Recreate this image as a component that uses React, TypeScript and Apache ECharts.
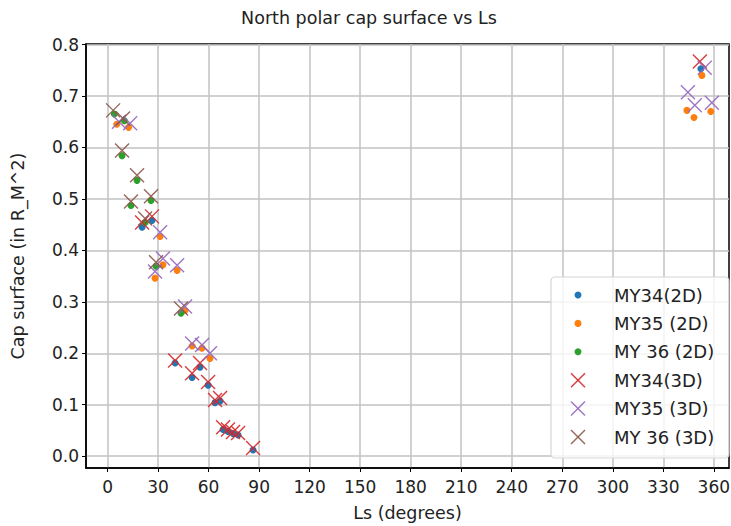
import React, { useEffect, useRef } from 'react';
import * as echarts from 'echarts';

const xTicks = [0, 30, 60, 90, 120, 150, 180, 210, 240, 270, 300, 330, 360];
const yTicks = [0, 0.1, 0.2, 0.3, 0.4, 0.5, 0.6, 0.7, 0.8];

const seriesNames = ['MY34(2D)', 'MY35 (2D)', 'MY 36 (2D)', 'MY34(3D)', 'MY35 (3D)', 'MY 36 (3D)'];
const seriesColors = ['#1f77b4', '#ff7f0e', '#2ca02c', '#d62728', '#9467bd', '#8c564b'];

// MY34
const my34Ls2D = [20.5, 26.4, 40.1, 50.2, 54.9, 59.7, 63.8, 66.8, 68.6, 71.5, 74.5, 77.5, 86.4, 352.3];
const my34Cap2D = [0.445, 0.458, 0.181, 0.153, 0.173, 0.138, 0.104, 0.107, 0.052, 0.048, 0.044, 0.041, 0.012, 0.753];
const my34Ls3D = [20.5, 26.4, 40.1, 50.2, 54.9, 59.7, 63.8, 66.8, 68.6, 71.5, 74.5, 77.5, 86.4, 351.7];
const my34Cap3D = [0.454, 0.466, 0.186, 0.161, 0.181, 0.144, 0.109, 0.113, 0.056, 0.052, 0.047, 0.045, 0.016, 0.767];

// MY35
const my35Ls2D = [5.5, 12.5, 28.2, 31.2, 32.9, 41.3, 46.0, 50.2, 56.1, 60.8, 344.0, 348.2, 352.9, 358.2];
const my35Cap2D = [0.645, 0.639, 0.346, 0.427, 0.372, 0.361, 0.283, 0.214, 0.210, 0.190, 0.672, 0.658, 0.740, 0.670];
const my35Ls3D = [6.8, 13.4, 28.2, 31.2, 32.9, 41.3, 46.0, 50.2, 56.1, 60.8, 344.6, 348.7, 354.6, 358.8];
const my35Cap3D = [0.650, 0.647, 0.359, 0.435, 0.384, 0.371, 0.291, 0.219, 0.216, 0.200, 0.707, 0.682, 0.755, 0.687];

// MY36
const my36Ls2D = [4.0, 10.0, 8.6, 17.5, 13.9, 25.8, 22.3, 28.8, 43.6];
const my36Cap2D = [0.665, 0.652, 0.584, 0.536, 0.487, 0.497, 0.454, 0.369, 0.278];
const my36Ls3D = [3.3, 9.2, 8.6, 17.5, 13.9, 25.8, 22.3, 28.8, 43.6];
const my36Cap3D = [0.672, 0.656, 0.594, 0.546, 0.495, 0.505, 0.462, 0.377, 0.287];

const FONT = 'DejaVu Sans';
const X_PATH = 'path://M0 0L10 10M10 0L0 10';

function pairs(xs: number[], ys: number[]) {
  return xs.map((x, i) => [x, ys[i]]);
}

export default function App() {
  const ref = useRef<HTMLDivElement>(null);
  useEffect(() => {
    document.body.style.margin = '0';
    const chart = echarts.init(ref.current!, null, { renderer: 'svg' });

    const data = [
      pairs(my34Ls2D, my34Cap2D),
      pairs(my35Ls2D, my35Cap2D),
      pairs(my36Ls2D, my36Cap2D),
      pairs(my34Ls3D, my34Cap3D),
      pairs(my35Ls3D, my35Cap3D),
      pairs(my36Ls3D, my36Cap3D),
    ];

    const series = data.map((d, i) => {
      const isX = i >= 3;
      return {
        type: 'scatter',
        name: seriesNames[i],
        data: d,
        symbol: isX ? X_PATH : 'circle',
        symbolSize: isX ? 14 : 7,
        itemStyle: isX
          ? { color: seriesColors[i], borderColor: seriesColors[i], borderWidth: 1.4, opacity: 0.9 }
          : { color: seriesColors[i], opacity: 1 },
        z: 2 + i,
      };
    });

    // Legend built from graphic elements
    const legendX = 551, legendY = 277, legendW = 178, legendH = 181;
    const rowY0 = 295, rowGap = 28.4, markX = 578, textX = 614;
    const legendEls: any[] = [
      {
        type: 'rect',
        z: 100,
        shape: { x: legendX, y: legendY, width: legendW, height: legendH, r: 4 },
        style: { fill: 'rgba(255,255,255,0.8)', stroke: '#d6d6d6', lineWidth: 1.2 },
      },
    ];
    seriesNames.forEach((n, i) => {
      const cy = rowY0 + i * rowGap;
      if (i < 3) {
        legendEls.push({
          type: 'circle', z: 101,
          shape: { cx: markX, cy, r: 3.5 },
          style: { fill: seriesColors[i] },
        });
      } else {
        const h = 7;
        legendEls.push({
          type: 'line', z: 101,
          shape: { x1: markX - h, y1: cy - h, x2: markX + h, y2: cy + h },
          style: { stroke: seriesColors[i], lineWidth: 1.4, opacity: 0.9 },
        });
        legendEls.push({
          type: 'line', z: 101,
          shape: { x1: markX + h, y1: cy - h, x2: markX - h, y2: cy + h },
          style: { stroke: seriesColors[i], lineWidth: 1.4, opacity: 0.9 },
        });
      }
      legendEls.push({
        type: 'text', z: 101,
        x: textX, y: cy,
        style: { text: n, fill: '#222', font: `18px "${FONT}"`, textAlign: 'left', textVerticalAlign: 'middle' },
      });
    });

    chart.setOption({
      animation: false,
      backgroundColor: '#ffffff',
      title: {
        text: 'North polar cap surface vs Ls',
        left: 364,
        top: 4,
        textAlign: 'center',
        textStyle: { fontFamily: FONT, fontSize: 17.5, fontWeight: 'normal', color: '#222' },
      },
      grid: {
        left: 86, right: 2, top: 44, bottom: 58,
        show: true, borderColor: '#000', borderWidth: 1.5, backgroundColor: 'transparent',
        outerBoundsMode: 'none',
      },
      xAxis: {
        type: 'value',
        min: -12.8,
        max: 369,
        name: 'Ls (degrees)',
        nameLocation: 'middle',
        nameGap: 36,
        nameTextStyle: { fontFamily: FONT, fontSize: 17.5, color: '#222' },
        axisLine: { show: true, onZero: false, lineStyle: { color: '#000', width: 1.5 } },
        axisTick: { show: true, inside: false, length: 4, customValues: xTicks, lineStyle: { color: '#000', width: 1 } },
        axisLabel: { customValues: xTicks, margin: 10, fontFamily: FONT, fontSize: 17, color: '#222' },
        splitLine: { show: true, lineStyle: { color: '#c2c2c2', width: 1.5 } },
      },
      yAxis: {
        type: 'value',
        min: -0.023,
        max: 0.801,
        name: 'Cap surface (in R_M^2)',
        nameLocation: 'middle',
        nameGap: 59,
        nameTextStyle: { fontFamily: FONT, fontSize: 17.5, color: '#222' },
        axisLine: { show: true, onZero: false, lineStyle: { color: '#000', width: 1.5 } },
        axisTick: { show: true, inside: false, length: 4, customValues: yTicks, lineStyle: { color: '#000', width: 1 } },
        axisLabel: {
          customValues: yTicks, margin: 7, fontFamily: FONT, fontSize: 17, color: '#222',
          formatter: (v: number) => v.toFixed(1),
        },
        splitLine: { show: true, lineStyle: { color: '#c2c2c2', width: 1.5 } },
      },
      series,
      graphic: legendEls,
    });

    return () => chart.dispose();
  }, []);
  return <div ref={ref} style={{ width: 731, height: 526 }} />;
}
